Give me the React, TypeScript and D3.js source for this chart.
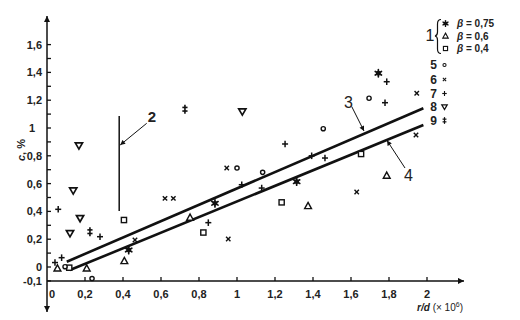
import React from 'react';
import * as d3 from 'd3';

const W = 520;
const H = 320;

// ---- data ----
const xTickValues = [0, 0.2, 0.4, 0.6, 0.8, 1, 1.2, 1.4, 1.6, 1.8, 2];
const xTickLabels = ['0', '0,2', '0,4', '0,6', '0,8', '1', '1,2', '1,4', '1,6', '1,8', '2'];
const yLabelValues = [-0.1, 0, 0.2, 0.4, 0.6, 0.8, 1, 1.2, 1.4, 1.6];
const yLabelTexts = ['-0,1', '0', '0,2', '0,4', '0,6', '0,8', '1', '1,2', '1,4', '1,6'];
const yMinorValues = [-0.1, 0, 0.1, 0.2, 0.3, 0.4, 0.5, 0.6, 0.7, 0.8, 0.9, 1, 1.1, 1.2, 1.3, 1.4, 1.5, 1.6];

// series 1 (β = 0.75, 0.6, 0.4)
const s1Star: [number, number][] = [[0.43, 0.122], [0.884, 0.458], [1.314, 0.614], [1.744, 1.394]];
const s1Tri: [number, number][] = [[0.055, -0.01], [0.209, -0.01], [0.407, 0.043], [0.753, 0.355], [1.374, 0.439], [1.788, 0.657]];
const s1Sq: [number, number][] = [[0.117, -0.005], [0.405, 0.338], [0.823, 0.248], [1.235, 0.465], [1.653, 0.813]];
// series 5..9
const s5Circle: [number, number][] = [[0.095, 0.002], [0.237, -0.083], [1.0, 0.712], [1.135, 0.681], [1.454, 0.995], [1.695, 1.214]];
const s6Cross: [number, number][] = [[0.463, 0.194], [0.621, 0.494], [0.665, 0.494], [0.946, 0.712], [0.954, 0.201], [1.63, 0.54], [1.946, 1.25], [1.942, 0.95]];
const s7Plus: [number, number][] = [[0.042, 0.032], [0.077, 0.067], [0.059, 0.415], [0.279, 0.218], [0.849, 0.319], [1.025, 0.592], [1.13, 0.568], [1.253, 0.885], [1.393, 0.8], [1.463, 0.784], [1.788, 1.333], [1.779, 1.182]];
const s8TriDown: [number, number][] = [[0.168, 0.873], [0.138, 0.549], [0.174, 0.35], [0.121, 0.241], [1.028, 1.117]];
const s9DDagger: [number, number][] = [[0.726, 1.135], [0.226, 0.254]];

// fitted lines 3 (upper) and 4 (lower)
const line3: [number, number][] = [[0.104, 0.038], [1.981, 1.142]];
const line4: [number, number][] = [[0.121, -0.022], [1.981, 1.022]];
// line 2 (vertical)
const line2: [number, number][] = [[0.38, 1.086], [0.38, 0.403]];

const legendBeta = ['β = 0,75', 'β = 0,6', 'β = 0,4'];
const legendNums = ['5', '6', '7', '8', '9'];

type MType = 'star' | 'tri' | 'sq' | 'circle' | 'cross' | 'plus' | 'tridown' | 'ddagger';

const FONT = '"Liberation Sans", Arial, sans-serif';

function Marker({ t, x, y, s = 1 }: { t: MType; x: number; y: number; s?: number }) {
  const st = { stroke: '#111', fill: 'white' };
  const g = (children: React.ReactNode) => (
    <g transform={`translate(${x},${y}) scale(${s})`}>{children}</g>
  );
  switch (t) {
    case 'star':
      return g(
        <g stroke="#111" strokeWidth={1.7} strokeLinecap="round">
          <line x1={0} y1={-3.6} x2={0} y2={3.6} />
          <line x1={-3.1} y1={-1.8} x2={3.1} y2={1.8} />
          <line x1={-3.1} y1={1.8} x2={3.1} y2={-1.8} />
          <circle r={1.6} fill="#111" />
        </g>
      );
    case 'tri':
      return g(<path d="M0,-3.6L3.4,2.6L-3.4,2.6Z" {...st} strokeWidth={1.4} />);
    case 'sq':
      return g(<rect x={-2.6} y={-2.6} width={5.2} height={5.2} {...st} strokeWidth={1.4} />);
    case 'circle':
      return g(<circle r={2.1} {...st} strokeWidth={1.4} />);
    case 'cross':
      return g(
        <g stroke="#111" strokeWidth={1.4}>
          <line x1={-2.2} y1={-2.2} x2={2.2} y2={2.2} />
          <line x1={-2.2} y1={2.2} x2={2.2} y2={-2.2} />
        </g>
      );
    case 'plus':
      return g(
        <g stroke="#111" strokeWidth={1.5}>
          <line x1={0} y1={-3.3} x2={0} y2={3.3} />
          <line x1={-3} y1={0} x2={3} y2={0} />
        </g>
      );
    case 'tridown':
      return g(<path d="M-3.6,-2.8L3.6,-2.8L0,3.4Z" {...st} strokeWidth={1.7} />);
    case 'ddagger':
      return g(
        <g stroke="#111" strokeWidth={1.6}>
          <line x1={0} y1={-4.5} x2={0} y2={4.5} />
          <line x1={-2.6} y1={-1.8} x2={2.6} y2={-1.8} />
          <line x1={-2.6} y1={1.8} x2={2.6} y2={1.8} />
        </g>
      );
  }
  return null;
}

export default function App() {
  const x = d3.scaleLinear().domain([0, 2]).range([47, 427]);
  const y = d3.scaleLinear().domain([0, 1.6]).range([267, 44.6]);
  const axisX = x(0);
  const axisY = y(-0.1);
  const lineGen = d3
    .line<[number, number]>()
    .x((d) => x(d[0]))
    .y((d) => y(d[1]));

  const series: [MType, [number, number][]][] = [
    ['star', s1Star],
    ['tri', s1Tri],
    ['sq', s1Sq],
    ['circle', s5Circle],
    ['cross', s6Cross],
    ['plus', s7Plus],
    ['tridown', s8TriDown],
    ['ddagger', s9DDagger],
  ];

  const legendBetaTypes: MType[] = ['star', 'tri', 'sq'];
  const legendNumTypes: MType[] = ['circle', 'cross', 'plus', 'tridown', 'ddagger'];
  const legendNumY = [65, 79.5, 93.5, 107, 120.5];
  const legendBetaY = [23.5, 36, 48.5];

  return (
    <svg
      width={W}
      height={H}
      style={{ position: 'fixed', left: 0, top: 0, background: 'white' }}
      fontFamily={FONT}
    >
      <defs>
        <marker id="ah" viewBox="0 0 10 10" refX={10} refY={5} markerWidth={6} markerHeight={5} orient="auto" markerUnits="userSpaceOnUse">
          <path d="M0,0L10,5L0,10Z" fill="#111" />
        </marker>
        <marker id="axh" viewBox="0 0 10 10" refX={10} refY={5} markerWidth={9} markerHeight={6} orient="auto" markerUnits="userSpaceOnUse">
          <path d="M0,0L10,5L0,10Z" fill="#111" />
        </marker>
      </defs>
      <rect width={W} height={H} fill="white" />

      {/* axes */}
      <line x1={axisX} y1={y(0.5)} x2={axisX} y2={16} stroke="#111" strokeWidth={1.5} markerEnd="url(#axh)" />
      <line x1={axisX} y1={y(0.5)} x2={axisX} y2={312} stroke="#111" strokeWidth={1.5} markerEnd="url(#axh)" />
      <line x1={axisX} y1={axisY} x2={464} y2={axisY} stroke="#111" strokeWidth={1.5} markerEnd="url(#axh)" />

      {/* y ticks */}
      {yMinorValues.map((v) => (
        <line key={'ym' + v} x1={axisX} x2={axisX + 4} y1={y(v)} y2={y(v)} stroke="#111" strokeWidth={1.3} />
      ))}
      {yLabelValues.map((v, i) => (
        <text
          key={'yl' + v}
          x={v === 1 ? 35 : 42}
          y={y(v) + 4}
          textAnchor="end"
          fontSize={11}
          fontWeight="bold"
          fill="#222"
        >
          {yLabelTexts[i]}
        </text>
      ))}
      <text transform={`translate(25,150) rotate(-90)`} textAnchor="middle" fontSize={11} fontWeight="bold" fill="#222">
        <tspan fontStyle="italic">c</tspan>, %
      </text>

      {/* x ticks */}
      {xTickValues.slice(1).map((v) => (
        <line key={'xt' + v} x1={x(v)} x2={x(v)} y1={axisY} y2={axisY - 4} stroke="#111" strokeWidth={1.3} />
      ))}
      {xTickValues.map((v, i) => (
        <text
          key={'xl' + v}
          x={x(v) + (v === 0 ? 5 : 0)}
          y={axisY + 17}
          textAnchor="middle"
          fontSize={11}
          fontWeight="bold"
          fill="#222"
        >
          {xTickLabels[i]}
        </text>
      ))}
      <text x={463} y={311} textAnchor="end" fontSize={10} fill="#222">
        <tspan fontStyle="italic" fontWeight="bold">r/d</tspan> (× 10<tspan fontSize={7} dy={-4}>6</tspan>
        <tspan dy={4}>)</tspan>
      </text>

      {/* fitted lines */}
      <path d={lineGen(line3) || ''} stroke="#111" strokeWidth={2.6} fill="none" />
      <path d={lineGen(line4) || ''} stroke="#111" strokeWidth={2.6} fill="none" />
      <path d={lineGen(line2) || ''} stroke="#111" strokeWidth={1.5} fill="none" />

      {/* points */}
      {series.map(([t, pts]) =>
        pts.map((p, i) => <Marker key={t + i} t={t} x={x(p[0])} y={y(p[1])} />)
      )}

      {/* annotations */}
      <line x1={146.7} y1={123.3} x2={x(0.38) + 1} y2={145} stroke="#111" strokeWidth={1} markerEnd="url(#ah)" />
      <text x={152} y={122} textAnchor="middle" fontSize={15} fontWeight="bold" fill="#222">2</text>
      <line x1={351.7} y1={106.5} x2={364} y2={131} stroke="#111" strokeWidth={1} markerEnd="url(#ah)" />
      <text x={348.5} y={107.5} textAnchor="middle" fontSize={16} fill="#222">3</text>
      <line x1={405} y1={168} x2={387} y2={140.5} stroke="#111" strokeWidth={1} markerEnd="url(#ah)" />
      <text x={408.5} y={181} textAnchor="middle" fontSize={16} fill="#222">4</text>

      {/* legend */}
      <text x={430} y={41} textAnchor="middle" fontSize={16} fill="#222">1</text>
      <path
        d="M441,19.5 Q437.5,19.5 437.5,24 L437.5,32 Q437.5,35.5 435,36 Q437.5,36.5 437.5,40 L437.5,49 Q437.5,53.5 441,53.5"
        stroke="#111"
        strokeWidth={1.2}
        fill="none"
      />
      {legendBeta.map((txt, i) => (
        <g key={'lb' + i}>
          <Marker t={legendBetaTypes[i]} x={445.5} y={legendBetaY[i]} s={0.8} />
          <text x={457} y={legendBetaY[i] + 3.6} fontSize={10} fontWeight="bold" fill="#222">
            <tspan fontStyle="italic">β</tspan>
            {txt.slice(1)}
          </text>
        </g>
      ))}
      {legendNums.map((n, i) => (
        <g key={'ln' + n}>
          <text x={433.5} y={legendNumY[i] + 4.2} textAnchor="middle" fontSize={12} fontWeight="bold" fill="#222">
            {n}
          </text>
          <Marker t={legendNumTypes[i]} x={444.5} y={legendNumY[i]} s={0.75} />
        </g>
      ))}
    </svg>
  );
}
